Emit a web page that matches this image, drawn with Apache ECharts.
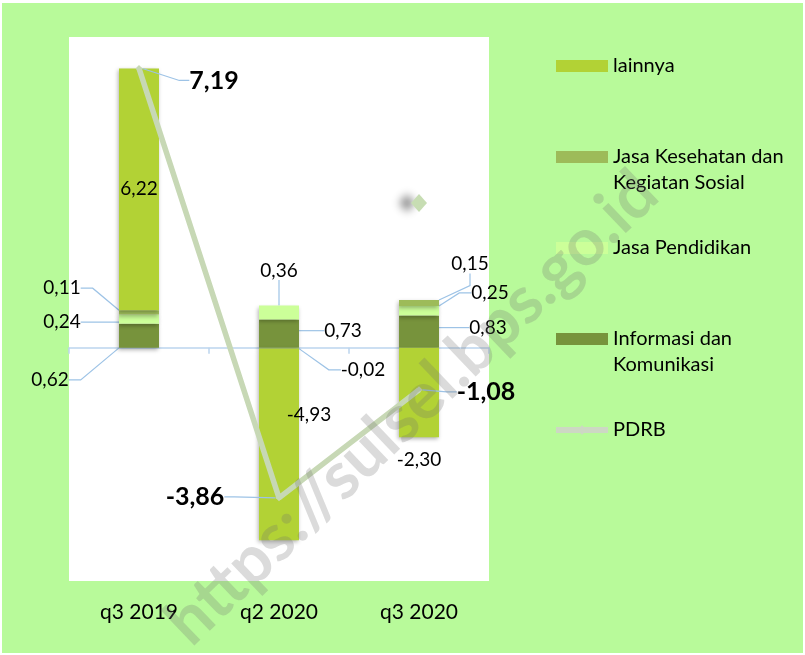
<!DOCTYPE html>
<html>
<head>
<meta charset="utf-8">
<script src="https://cdn.jsdelivr.net/npm/echarts@6/dist/echarts.min.js"></script>
<style>
html, body { margin: 0; padding: 0; background: #fff; }
#box { position: absolute; left: 2px; top: 3px; width: 801px; height: 650px; }
</style>
</head>
<body>
<div id="box"></div>
<script>
// data
const categories = ['q3 2019', 'q2 2020', 'q3 2020'];
const informasi = [0.62, 0.73, 0.83];
const pendidikan = [0.24, 0.36, 0.25];
const kesehatan = [0.11, -0.02, 0.15];
const lainnya = [6.22, -4.93, -2.30];
const pdrb = [7.19, -3.86, -1.08];

const legendText = {
  'lainnya': 'lainnya',
  'Jasa Kesehatan dan Kegiatan Sosial': '\nJasa Kesehatan dan\nKegiatan Sosial',
  'Jasa Pendidikan': 'Jasa Pendidikan',
  'Informasi dan Komunikasi': '\nInformasi dan\nKomunikasi',
  'PDRB': 'PDRB'
};

const FONT = 'Lato';
const leader = { color: '#9dc3e6', width: 1.2 };
const fmt = p => p.value.toFixed(2).replace('.', ',');

// where each label sits, relative to its bar / point (r = element rect)
const spots = {
  0: [r => [r.x - 69, r.y + r.height + 32],
      r => [r.x + r.width + 44, r.y + r.height / 2 - 3],
      r => [r.x + r.width + 49, r.y + 12]],
  1: [r => [r.x - 57, r.y + r.height / 2 + 3],
      r => [r.x + r.width / 2, r.y - 35],
      r => [r.x + r.width + 51, r.y - 13]],
  2: [r => [r.x - 57, r.y - 22],
      r => [r.x + r.width + 64, r.y + 22],
      r => [r.x + r.width + 31, r.y - 36]],
  3: [null,
      r => [r.x + r.width / 2 + 30, r.y + r.height / 2 - 30],
      r => [r.x + r.width / 2, r.y + r.height + 23]],
  4: [r => [r.x + r.width / 2 + 75, r.y + r.height / 2 + 12],
      r => [r.x + r.width / 2 - 84, r.y + r.height / 2 - 1],
      r => [r.x + r.width / 2 + 67, r.y + r.height / 2 + 2]]
};
function layoutFn(p) {
  const f = spots[p.seriesIndex] && spots[p.seriesIndex][p.dataIndex];
  if (!f) return;
  const pt = f(p.rect);
  return { x: pt[0], y: pt[1], align: 'center', verticalAlign: 'middle' };
}

function barSeries(name, values, color, noLine) {
  return {
    name: name,
    type: 'bar',
    stack: 'total',
    barWidth: 40,
    data: values.map(v => noLine ? { value: v, labelLine: { show: false } } : v),
    itemStyle: {
      color: color,
      shadowBlur: 4,
      shadowColor: 'rgba(0,0,0,0.3)',
      shadowOffsetX: -1,
      shadowOffsetY: 2
    },
    label: { show: true, formatter: fmt, fontFamily: FONT, fontSize: 19, color: '#000' },
    labelLine: { show: true, length2: 12, lineStyle: leader },
    labelLayout: layoutFn
  };
}

const chart = echarts.init(document.getElementById('box'));
const option = {
  backgroundColor: '#b8fa9a',
  animation: false,
  grid: { left: 67, top: 34, width: 420, height: 544, show: true, backgroundColor: '#fff', borderWidth: 0 },
  legend: {
    orient: 'vertical',
    left: 551,
    top: 50,
    padding: 0,
    itemGap: 39,
    itemWidth: 52,
    itemHeight: 12,
    data: [
      { name: 'lainnya', icon: 'rect' },
      { name: 'Jasa Kesehatan dan Kegiatan Sosial', icon: 'rect' },
      { name: 'Jasa Pendidikan', icon: 'rect' },
      { name: 'Informasi dan Komunikasi', icon: 'rect' },
      { name: 'PDRB', lineStyle: { width: 6, color: '#cdd8c4' }, itemStyle: { color: '#cdd8c4' } }
    ],
    formatter: n => legendText[n],
    textStyle: { fontFamily: FONT, fontSize: 20, lineHeight: 26, color: '#000' }
  },
  xAxis: [{
    type: 'category',
    data: categories,
    axisLine: { onZero: true, lineStyle: { color: '#bcd5ee', width: 1.5 } },
    axisTick: { show: true, length: 6, lineStyle: { color: '#bcd5ee', width: 1.5 } },
    axisLabel: { show: false }
  }, {
    type: 'category',
    data: categories,
    position: 'bottom',
    axisLine: { show: false, onZero: false },
    axisTick: { show: false },
    axisLabel: { fontFamily: FONT, fontSize: 21, color: '#000', margin: 21 }
  }],
  yAxis: { type: 'value', min: -6, max: 8, show: false },
  series: [
    barSeries('Informasi dan Komunikasi', informasi, '#77933c'),
    barSeries('Jasa Pendidikan', pendidikan, '#ccff99'),
    barSeries('Jasa Kesehatan dan Kegiatan Sosial', kesehatan, '#9dbb59'),
    barSeries('lainnya', lainnya, '#b2d235', true),
    {
      name: 'PDRB',
      type: 'line',
      data: pdrb,
      z: 5,
      symbol: 'diamond',
      symbolSize: 7,
      lineStyle: { color: '#c7d8b5', width: 5.5 },
      itemStyle: { color: '#c7d8b5' },
      label: { show: true, position: 'right', formatter: fmt, fontFamily: FONT, fontSize: 25, fontWeight: 'bold', color: '#000' },
      labelLine: { show: true, length2: 10, lineStyle: leader },
      labelLayout: layoutFn
    }
  ],
  graphic: [
    {
      type: 'polygon',
      silent: true,
      shape: { points: [[417, 191], [425, 200], [417, 209], [409, 200]] },
      style: { fill: '#c7ddb3', shadowBlur: 8, shadowOffsetX: -12, shadowColor: 'rgba(0,0,0,0.45)' }
    },
    {
      type: 'text',
      silent: true,
      z: 100,
      x: 410,
      y: 405,
      rotation: 0.763,
      style: {
        text: 'https://sulsel.bps.go.id',
        font: 'bold 66px Lato',
        fill: 'rgba(110,110,110,0.25)',
        align: 'center',
        verticalAlign: 'middle'
      }
    }
  ]
};
chart.setOption(option);
window.onresize = function () { chart.resize(); };
</script>
</body>
</html>
